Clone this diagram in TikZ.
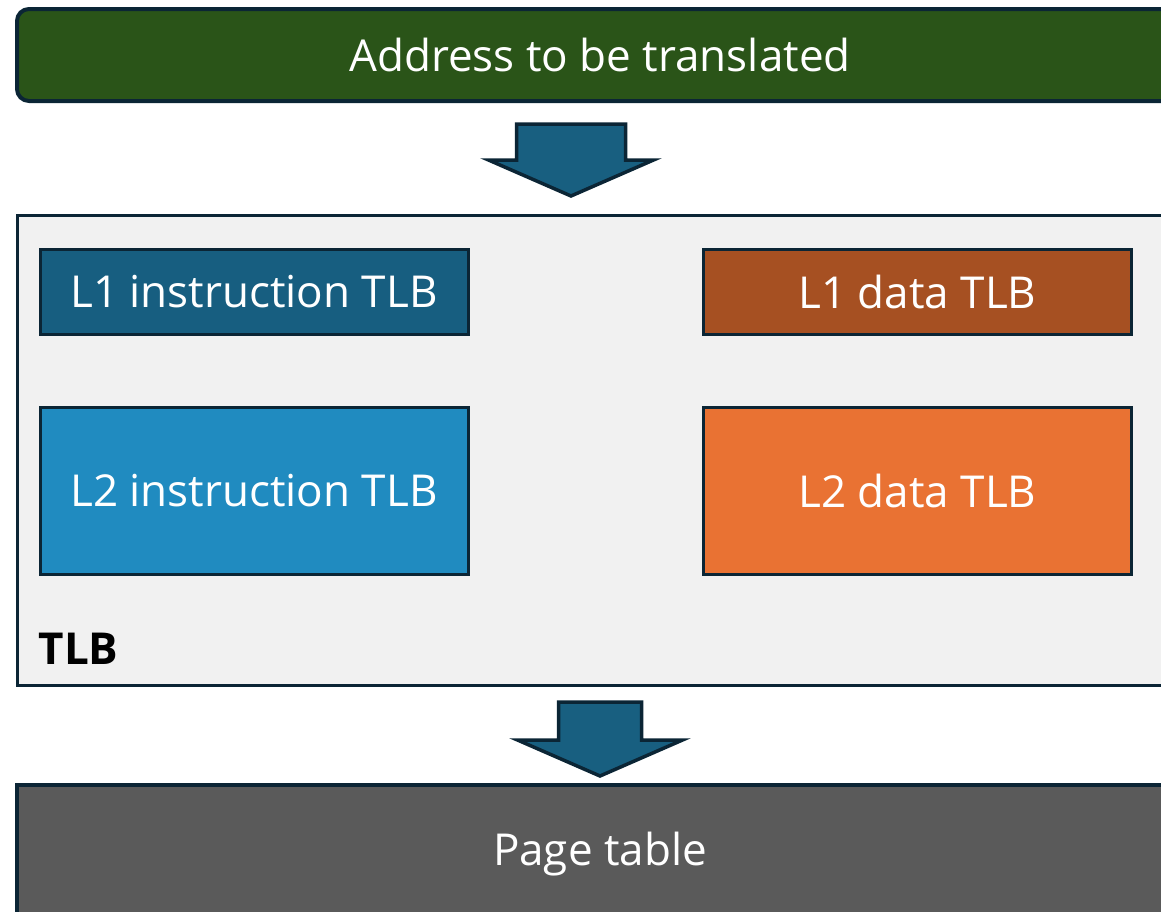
\documentclass[tikz,border=0pt]{standalone}
\usepackage{fontspec}
\setmainfont{Open Sans}
\usetikzlibrary{positioning}

\definecolor{edge}{HTML}{0B2535}
\definecolor{addrgreen}{HTML}{2A5418}
\definecolor{arrowblue}{HTML}{185F80}
\definecolor{tlbgray}{HTML}{F1F1F1}
\definecolor{ionedark}{HTML}{175E80}
\definecolor{itwolight}{HTML}{208BC0}
\definecolor{donebrown}{HTML}{A65022}
\definecolor{dtwoorange}{HTML}{E97233}
\definecolor{pagegray}{HTML}{5A5A5A}

\begin{document}
\begin{tikzpicture}[
	x=1pt, y=-1pt,
	bigbox/.style={rectangle, draw=edge, line width=4pt, inner sep=0pt, text=white, font=\fontsize{44}{50}\selectfont, minimum width=1166pt},
	tlbbox/.style={rectangle, draw=edge, line width=3pt, inner sep=0pt, text=white, font=\fontsize{44}{50}\selectfont, minimum width=428pt},
	blockarrow/.style={fill=arrowblue, draw=edge, line width=3.5pt, line join=miter},
]

\useasboundingbox (0,0) rectangle (1161,911);

% input and TLB container
\node[bigbox, fill=addrgreen, rounded corners=12pt, minimum height=92pt] (addr) at (600,55) {Address to be translated};
\node[rectangle, draw=edge, line width=3pt, fill=tlbgray, minimum width=1166pt, minimum height=470pt] (tlb) at (600,450) {};
\node[bigbox, fill=pagegray, minimum height=170pt] (page) at (600,870) {};
\node[text=white, font=\fontsize{44}{50}\selectfont] (pagetext) at (600,854) {Page table};

% the four TLB levels
\node[tlbbox, fill=ionedark, minimum height=85pt] (ione) at (254,291.5) {L1 instruction TLB};
\node[tlbbox, fill=donebrown, minimum height=85pt] (done) at (917.5,291.5) {L1 data TLB};
\node[tlbbox, fill=itwolight, minimum height=167pt] (itwo) at (254,490.5) {L2 instruction TLB};
\node[tlbbox, fill=dtwoorange, minimum height=167pt] (dtwo) at (917.5,490.5) {L2 data TLB};
\node[font=\fontsize{44}{50}\selectfont\bfseries, anchor=base west] (tlblabel) at (35,664) {TLB};

% block arrows between the stages
\coordinate (arrowone) at (571,124);
\coordinate (arrowtwo) at (600,702);
\draw[blockarrow] (arrowone) ++(-54.5,0) -- ++(109,0) -- ++(0,36) -- ++(28,0) -- ++(-82.5,36) -- ++(-82.5,-36) -- ++(28,0) -- cycle;
\draw[blockarrow] (arrowtwo) ++(-41.5,0) -- ++(83,0) -- ++(0,38) -- ++(41,0) -- ++(-82.5,36) -- ++(-82.5,-36) -- ++(41,0) -- cycle;

\end{tikzpicture}
\end{document}
